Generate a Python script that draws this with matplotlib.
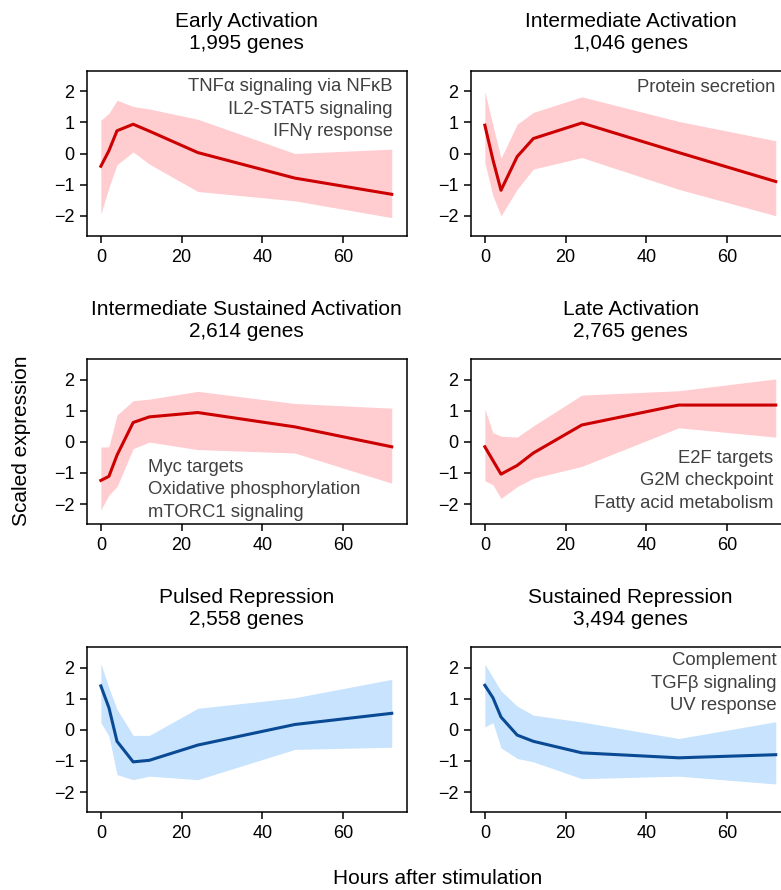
import matplotlib
matplotlib.use("Agg")
import matplotlib.pyplot as plt

plt.rcParams['font.family'] = ['Liberation Sans', 'DejaVu Sans']

# sampling times (hours after stimulation)
hours = [0, 2, 4, 8, 12, 24, 48, 72]

titles = ["Early Activation", "Intermediate Activation",
          "Intermediate Sustained Activation", "Late Activation",
          "Pulsed Repression", "Sustained Repression"]
gene_counts = ["1,995", "1,046", "2,614", "2,765", "2,558", "3,494"]

# cluster mean and band (upper / lower) of scaled expression
early_mean = [-0.41, 0.09, 0.73, 0.94, 0.72, 0.03, -0.79, -1.31]
early_hi = [1.07, 1.29, 1.71, 1.51, 1.43, 1.10, 0.00, 0.14]
early_lo = [-1.95, -1.09, -0.36, 0.05, -0.34, -1.22, -1.52, -2.06]

inter_mean = [0.91, -0.20, -1.18, -0.10, 0.48, 0.98, 0.03, -0.90]
inter_hi = [1.99, 0.90, -0.15, 0.94, 1.32, 1.82, 1.03, 0.41]
inter_lo = [-0.29, -1.36, -2.00, -1.15, -0.50, -0.13, -1.15, -2.00]

sust_mean = [-1.24, -1.11, -0.43, 0.62, 0.80, 0.94, 0.48, -0.16]
sust_hi = [-0.17, -0.16, 0.86, 1.32, 1.37, 1.62, 1.23, 1.08]
sust_lo = [-2.19, -1.71, -1.44, -0.22, -0.01, -0.25, -0.36, -1.33]

late_mean = [-0.16, -0.60, -1.04, -0.76, -0.36, 0.54, 1.18, 1.18]
late_hi = [1.05, 0.29, 0.18, 0.15, 0.51, 1.50, 1.64, 2.02]
late_lo = [-1.25, -1.38, -1.82, -1.44, -1.17, -0.79, 0.45, 0.15]

pulsed_mean = [1.41, 0.71, -0.37, -1.03, -0.98, -0.49, 0.17, 0.53]
pulsed_hi = [2.13, 1.35, 0.66, -0.18, -0.18, 0.69, 1.03, 1.62]
pulsed_lo = [0.23, -0.20, -1.44, -1.60, -1.49, -1.60, -0.63, -0.56]

repr_mean = [1.43, 1.03, 0.41, -0.17, -0.37, -0.74, -0.90, -0.80]
repr_hi = [2.11, 1.68, 1.25, 0.76, 0.47, 0.25, -0.28, 0.26]
repr_lo = [0.09, 0.23, -0.58, -0.92, -1.03, -1.57, -1.49, -1.74]

means = [early_mean, inter_mean, sust_mean, late_mean, pulsed_mean, repr_mean]
uppers = [early_hi, inter_hi, sust_hi, late_hi, pulsed_hi, repr_hi]
lowers = [early_lo, inter_lo, sust_lo, late_lo, pulsed_lo, repr_lo]

# enriched hallmark pathways per cluster
pathways = [
    ["TNFα signaling via NFκB", "IL2-STAT5 signaling", "IFNγ response"],
    ["Protein secretion"],
    ["Myc targets", "Oxidative phosphorylation", "mTORC1 signaling"],
    ["E2F targets", "G2M checkpoint", "Fatty acid metabolism"],
    [],
    ["Complement", "TGFβ signaling", "UV response"],
]

RED, PINK = "#cc0000", "#ffccd0"
BLUE, LIGHTBLUE = "#0a4a94", "#c8e3fd"

W, H = 781, 890
fig = plt.figure(figsize=(W / 100, H / 100), dpi=100)

lefts = [86.7, 470.7]
tops = [71, 359.3, 647.3]
aw, ah = 320, 165

# text placement: (x frac, first-line y frac, ha)
text_pos = [(0.957, 0.905, "right"), (0.953, 0.897, "right"),
            (0.19, 0.345, "left"), (0.945, 0.40, "right"),
            (0.95, 0.9, "right"), (0.955, 0.917, "right")]
line_step = 22.5 / ah

for i in range(6):
    r, c = divmod(i, 2)
    ax = fig.add_axes([lefts[c] / W, (H - tops[r] - ah) / H, aw / W, ah / H])
    line_col, band_col = (RED, PINK) if i < 4 else (BLUE, LIGHTBLUE)
    ax.fill_between(hours, lowers[i], uppers[i], color=band_col, lw=0)
    ax.plot(hours, means[i], color=line_col, lw=2.2)
    ax.set_xlim(-3.5, 75.7)
    ax.set_ylim(-2.65, 2.65)
    ax.set_xticks([0, 20, 40, 60])
    ax.set_yticks([-2, -1, 0, 1, 2])
    ax.tick_params(direction="out", length=5, width=1.1, labelsize=13,
                   pad=4, colors="black")
    for s in ax.spines.values():
        s.set_linewidth(1.1)
    ax.set_title(titles[i] + "\n" + gene_counts[i] + " genes",
                 fontsize=15, pad=16, linespacing=1.2)
    tx, ty, ha = text_pos[i]
    for k, label in enumerate(pathways[i]):
        ax.text(tx, ty - k * line_step, label, transform=ax.transAxes,
                ha=ha, va="center", fontsize=13.3, color="#404040")

fig.text(22 / W, 1 - 441 / H, "Scaled expression", rotation=90,
         ha="center", va="center", fontsize=15)
fig.text(438 / W, 1 - 878 / H, "Hours after stimulation",
         ha="center", va="center", fontsize=15)

fig.savefig("out.png", dpi=100)
